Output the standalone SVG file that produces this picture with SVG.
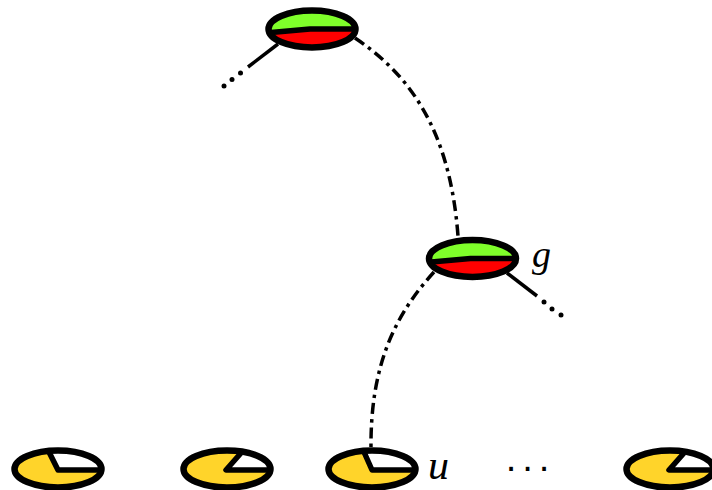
<svg xmlns="http://www.w3.org/2000/svg" width="712" height="490" viewBox="0 0 712 490">
<style>
.o{fill:none;stroke:#000;stroke-width:6.5}
.d{fill:none;stroke:#000;stroke-width:5.5;stroke-linejoin:round}
.c{fill:none;stroke:#000;stroke-width:3.5}
.dd{stroke-dasharray:11 5 3.5 5}
.p{fill:#000;stroke:none}
.m{font-family:"Liberation Serif","Times New Roman",serif;font-style:italic;fill:#000}
.t{font-family:"Liberation Sans",Arial,sans-serif;font-size:38px;fill:#000;text-anchor:middle}
</style>
<defs>
<clipPath id="e"><ellipse cx="0" cy="0" rx="43.500" ry="18.500"/></clipPath>
<g id="inner"><rect x="-46" y="-22" width="92" height="44" fill="#f00" clip-path="url(#e)"/><path d="M-46,-22H46V0H-2L-46,4Z" fill="#7fff2a" clip-path="url(#e)"/><path class="d" d="M-41,3.500L-2,0H43" clip-path="url(#e)"/><ellipse class="o" rx="43.500" ry="18.500"/></g>
<ellipse id="leafbase" cx="0" cy="0" rx="43.500" ry="18.500" fill="#ffd42a"/>
</defs>
<g id="connectors">
<path class="c" d="M278,44L248,67"/><circle class="p" cx="240.500" cy="73" r="2.500"/><circle class="p" cx="232" cy="79.500" r="2.500"/><circle class="p" cx="224" cy="86" r="2.500"/>
<path class="c dd" d="M355,38C410,75 450,130 458,236"/>
<path class="c" d="M507,273L537,296"/><circle class="p" cx="544" cy="302" r="2.500"/><circle class="p" cx="552" cy="309" r="2.500"/><circle class="p" cx="561" cy="315" r="2.500"/>
<path class="c dd" d="M434,272C395,315 370,365 371,450"/>
</g>
<g id="node-top" transform="translate(312,29)"><use href="#inner"/></g>
<g id="node-g" transform="translate(472.500,258.500)"><use href="#inner"/></g>
<g id="leaf-1" transform="translate(58,469)"><use href="#leafbase"/><path d="M-9,-20L1,1H46V-22Z" fill="#fff" clip-path="url(#e)"/><path class="d" d="M-9,-17L0,1H41" clip-path="url(#e)"/><ellipse class="o" rx="43.500" ry="18.500"/></g>
<g id="leaf-2" transform="translate(227,469)"><use href="#leafbase"/><path d="M15,-20L-1,1H46V-22Z" fill="#fff" clip-path="url(#e)"/><path class="d" d="M14,-16L-1,1H41" clip-path="url(#e)"/><ellipse class="o" rx="43.500" ry="18.500"/></g>
<g id="leaf-u" transform="translate(372,469)"><use href="#leafbase"/><path d="M-8,-20L1,1H46V-22Z" fill="#fff" clip-path="url(#e)"/><path class="d" d="M-8,-17L0,1H41" clip-path="url(#e)"/><ellipse class="o" rx="43.500" ry="18.500"/></g>
<g id="leaf-4" transform="translate(670,469)"><use href="#leafbase"/><path d="M15,-20L-1,1H46V-22Z" fill="#fff" clip-path="url(#e)"/><path class="d" d="M14,-16L-1,1H41" clip-path="url(#e)"/><ellipse class="o" rx="43.500" ry="18.500"/></g>
<text class="m" font-size="38" x="532" y="267">g</text>
<text class="m" font-size="42" x="428" y="479">u</text>
<text class="t" x="511 527.500 544" y="480">···</text>
</svg>
